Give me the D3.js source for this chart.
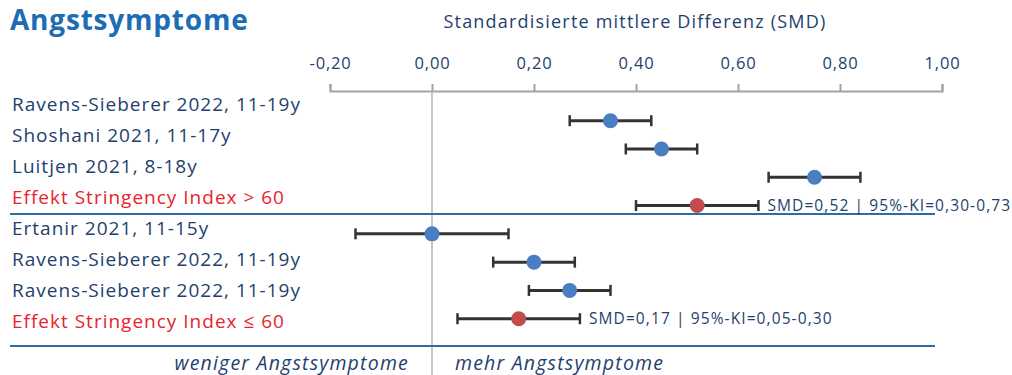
<!DOCTYPE html>
<html>
<head>
<meta charset="utf-8">
<script src="https://cdn.jsdelivr.net/npm/d3@7"></script>
<style>
  body { margin: 0; background: #fff; }
  svg text { font-family: "Open Sans", sans-serif; }
</style>
</head>
<body>
<div id="chart"></div>
<script>
// datos
const studies = [
  "Ravens-Sieberer 2022, 11-19y",
  "Shoshani 2021, 11-17y",
  "Luitjen 2021, 8-18y",
  "Effekt Stringency Index > 60",
  "Ertanir 2021, 11-15y",
  "Ravens-Sieberer 2022, 11-19y",
  "Ravens-Sieberer 2022, 11-19y",
  "Effekt Stringency Index ≤ 60"
];
const smd   = [0.35, 0.45, 0.75, 0.52, 0.00, 0.20, 0.27, 0.17];
const lower = [0.27, 0.38, 0.66, 0.40, -0.15, 0.12, 0.19, 0.05];
const upper = [0.43, 0.52, 0.84, 0.64, 0.15, 0.28, 0.35, 0.29];
const pooled = [false, false, false, true, false, false, false, true];
const pooledText = ["SMD=0,52 | 95%-KI=0,30-0,73", "SMD=0,17 | 95%-KI=0,05-0,30"];
const ticks = [-0.2, 0, 0.2, 0.4, 0.6, 0.8, 1.0];

const width = 1012, height = 375;
const navy = "#1f3f6e", red = "#e8232d";

const svg = d3.select("#chart").append("svg")
  .attr("width", width)
  .attr("height", height);

const idx = d3.range(studies.length);
const x = d3.scaleLinear().domain([-0.2, 1.0]).range([330, 942]);
const yPoint = d3.scalePoint().domain(idx).range([120.7, 318.7]);
const yLabel = d3.scalePoint().domain(idx).range([110.7, 328.3]);

// titulo
svg.append("text")
  .attr("x", 10).attr("y", 30)
  .attr("font-size", 28).attr("font-weight", 700)
  .attr("letter-spacing", 0.8)
  .attr("fill", "#1c6db3")
  .text("Angstsymptome");

svg.append("text")
  .attr("x", 635).attr("y", 28)
  .attr("text-anchor", "middle")
  .attr("font-size", 18)
  .attr("letter-spacing", 1.2)
  .attr("fill", navy)
  .text("Standardisierte mittlere Differenz (SMD)");

// eje
const axis = svg.append("g")
  .attr("transform", "translate(0,91)")
  .call(d3.axisTop(x).tickValues(ticks).tickSize(7).tickSizeOuter(7)
    .tickFormat(d => d3.format(".2f")(d).replace(".", ",").replace("−", "-")));
axis.select(".domain").attr("stroke", "#a3a3a3").attr("stroke-width", 2);
axis.selectAll(".tick line").attr("stroke", "#a3a3a3").attr("stroke-width", 2);
axis.selectAll(".tick text")
  .attr("y", -22)
  .attr("font-size", 16.5)
  .attr("letter-spacing", 0.8)
  .attr("font-family", "Open Sans, sans-serif")
  .attr("fill", navy);

// linea de cero
svg.append("line")
  .attr("x1", x(0)).attr("x2", x(0))
  .attr("y1", 91).attr("y2", height)
  .attr("stroke", "#b5b5b5").attr("stroke-width", 1.5);

// separadores
[214, 346].forEach(yy => {
  svg.append("line")
    .attr("x1", 10).attr("x2", 935)
    .attr("y1", yy).attr("y2", yy)
    .attr("stroke", "#2b6cab").attr("stroke-width", 2);
});

// etiquetas
svg.append("g").selectAll("text")
  .data(idx)
  .join("text")
  .attr("x", 12)
  .attr("y", i => yLabel(i))
  .attr("font-size", 19)
  .attr("letter-spacing", 1.0)
  .attr("fill", i => pooled[i] ? red : navy)
  .text(i => studies[i]);

// intervalos
const rows = svg.append("g").selectAll("g")
  .data(idx)
  .join("g")
  .attr("transform", i => `translate(0,${yPoint(i)})`);

rows.append("line")
  .attr("x1", i => x(lower[i])).attr("x2", i => x(upper[i]))
  .attr("stroke", "#333").attr("stroke-width", 3);
rows.append("line")
  .attr("x1", i => x(lower[i])).attr("x2", i => x(lower[i]))
  .attr("y1", -5.5).attr("y2", 5.5)
  .attr("stroke", "#333").attr("stroke-width", 2.5);
rows.append("line")
  .attr("x1", i => x(upper[i])).attr("x2", i => x(upper[i]))
  .attr("y1", -5.5).attr("y2", 5.5)
  .attr("stroke", "#333").attr("stroke-width", 2.5);
rows.append("circle")
  .attr("cx", i => x(smd[i]))
  .attr("r", 7.5)
  .attr("fill", i => pooled[i] ? "#c24b4b" : "#4a7ec2");

// texto de efecto combinado
let k = 0;
idx.filter(i => pooled[i]).forEach(i => {
  svg.append("text")
    .attr("x", x(upper[i]) + 9)
    .attr("y", yPoint(i) + 5)
    .attr("font-size", 15.5)
    .attr("letter-spacing", 1.1)
    .attr("fill", navy)
    .text(pooledText[k++]);
});

// textos inferiores
svg.append("text")
  .attr("x", x(0) - 23).attr("y", 370)
  .attr("text-anchor", "end")
  .attr("font-size", 19.5).attr("font-style", "italic")
  .attr("letter-spacing", 1.2)
  .attr("fill", navy)
  .text("weniger Angstsymptome");
svg.append("text")
  .attr("x", x(0) + 23).attr("y", 370)
  .attr("font-size", 19.5).attr("font-style", "italic")
  .attr("letter-spacing", 1.2)
  .attr("fill", navy)
  .text("mehr Angstsymptome");
</script>
</body>
</html>
